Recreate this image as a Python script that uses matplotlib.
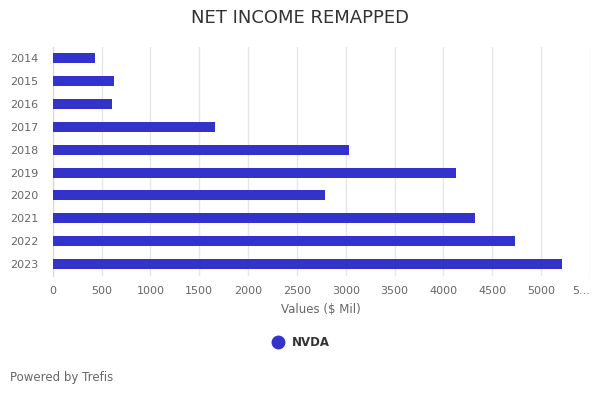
import matplotlib
matplotlib.use("Agg")
import matplotlib.pyplot as plt
from matplotlib.lines import Line2D

years = ["2014", "2015", "2016", "2017", "2018", "2019", "2020", "2021", "2022", "2023"]
net_income = [435, 625, 608, 1665, 3035, 4130, 2790, 4325, 4735, 5215]
xticks = [0, 500, 1000, 1500, 2000, 2500, 3000, 3500, 4000, 4500, 5000, 5500]
xtick_labels = ["0", "500", "1000", "1500", "2000", "2500", "3000", "3500",
                "4000", "4500", "5000", "5..."]

bar_color = "#3333cc"
grey = "#666666"

fig = plt.figure(figsize=(6, 4), dpi=100)
ax = fig.add_axes([0.088, 0.311, 0.895, 0.5725])

ypos = list(range(len(years)))
ax.barh(ypos, net_income, height=0.44, color=bar_color, zorder=3)
ax.set_ylim(len(years) - 0.5, -0.5)
ax.set_yticks(ypos)
ax.set_yticklabels(years)
ax.set_xlim(0, 5500)
ax.set_xticks(xticks)
ax.set_xticklabels(xtick_labels)
# the clipped last label sits inside the plot edge, as in the original
ax.get_xticklabels()[-1].set_horizontalalignment("right")

ax.grid(axis="x", color="#e6e6e6", linewidth=1, zorder=0)
for s in ["top", "right", "bottom"]:
    ax.spines[s].set_visible(False)
ax.spines["left"].set_color("#ccd6eb")
ax.tick_params(axis="both", length=0, labelsize=8, labelcolor=grey)
ax.tick_params(axis="x", pad=7.5)
ax.tick_params(axis="y", pad=10.5)

ax.set_xlabel("Values ($ Mil)", fontsize=8.5, color=grey, labelpad=5)
fig.text(0.5, 0.955, "NET INCOME REMAPPED", ha="center", va="center",
         fontsize=13, color="#333333")

handle = Line2D([], [], marker="o", linestyle="none", markersize=9,
                markerfacecolor=bar_color, markeredgecolor=bar_color)
leg = fig.legend([handle], ["NVDA"], loc="center", bbox_to_anchor=(0.497, 0.143),
                 frameon=False, handletextpad=0.2,
                 prop={"weight": "bold", "size": 8.5})
for t in leg.get_texts():
    t.set_color("#333333")

fig.text(10 / 600, 1 - 378 / 400, "Powered by Trefis", ha="left", va="center",
         fontsize=8.5, color=grey)

fig.savefig("out.png", dpi=100)
